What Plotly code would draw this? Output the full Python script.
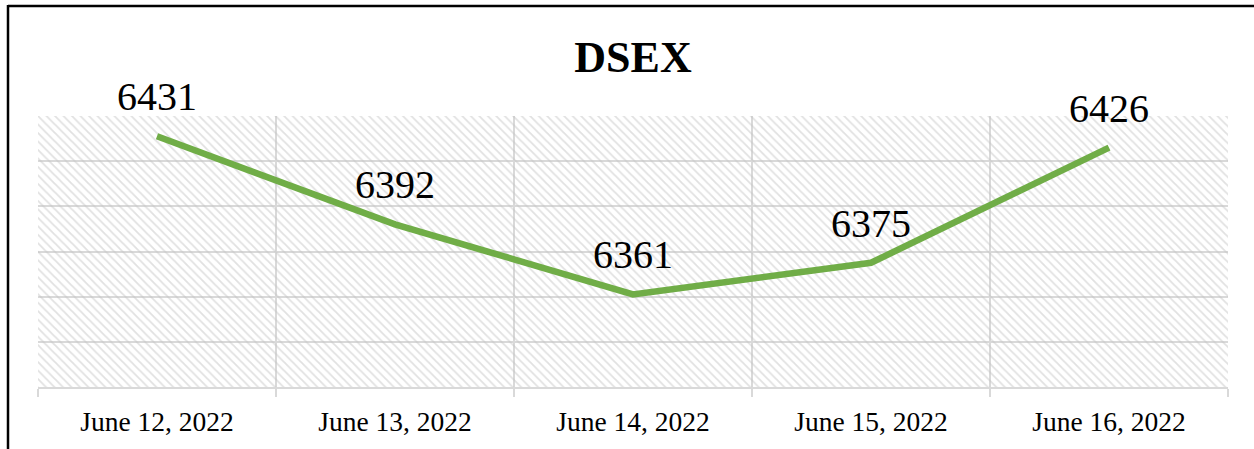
import plotly.graph_objects as go

dates = ["June 12, 2022", "June 13, 2022", "June 14, 2022", "June 15, 2022", "June 16, 2022"]
dsex = [6431, 6392, 6361, 6375, 6426]
y_min, y_max, y_step = 6320, 6440, 20

W, H = 1254, 449
ml, mr, mt, mb = 38, 26, 116, 62
pw, ph = W - ml - mr, H - mt - mb

fig = go.Figure()

# hatched plot-area background
fig.add_trace(go.Bar(
    x=dates, y=[y_max - y_min] * len(dates), base=y_min, width=1,
    marker=dict(color="rgba(0,0,0,0)", line=dict(width=0),
                pattern=dict(shape="\\", size=6, solidity=0.3,
                             fgcolor="#c4c4c4", bgcolor="rgba(0,0,0,0)")),
    hoverinfo="skip", showlegend=False))

fig.add_trace(go.Scatter(
    x=dates, y=dsex, mode="lines",
    line=dict(color="#70AD47", width=6.5),
    showlegend=False))

for d, v in zip(dates, dsex):
    fig.add_annotation(x=d, y=v, text=str(v), showarrow=False,
                       yanchor="bottom", yshift=15,
                       font=dict(family="Liberation Serif", size=40, color="#000"))

def px(x):
    return (x - ml) / pw

def py(y):
    return (H - mb - y) / ph

# chart frame (top and left edges)
fig.add_shape(type="line", xref="paper", yref="paper",
              x0=px(8), y0=py(6), x1=px(1260), y1=py(6),
              line=dict(color="#000", width=2.5))
fig.add_shape(type="line", xref="paper", yref="paper",
              x0=px(8), y0=py(5), x1=px(8), y1=py(455),
              line=dict(color="#000", width=2.5))

fig.update_layout(
    width=W, height=H,
    margin=dict(l=ml, r=mr, t=mt, b=mb),
    paper_bgcolor="white", plot_bgcolor="white",
    barmode="overlay",
    title=dict(text="<b>DSEX</b>", x=633 / W, xanchor="center",
               y=1 - 57 / H, yanchor="middle",
               font=dict(family="Liberation Serif", size=44, color="#000")),
    xaxis=dict(type="category", tickson="boundaries", showgrid=True,
               gridcolor="#d9d9d9", gridwidth=2,
               ticks="outside", ticklen=8, tickcolor="#d9d9d9", tickwidth=2,
               ticklabelstandoff=9,
               showline=True, linecolor="#d9d9d9", linewidth=2,
               tickfont=dict(family="Liberation Serif", size=27.5, color="#000"),
               range=[-0.5, 4.5]),
    yaxis=dict(range=[y_min, y_max], dtick=y_step, tick0=y_min,
               showgrid=True, gridcolor="#d9d9d9", gridwidth=2,
               showticklabels=False, zeroline=False, showline=False),
)

fig.write_html("out.html", config={"displayModeBar": False},
               post_script="document.body.style.margin='0';document.body.style.overflow='hidden';")
